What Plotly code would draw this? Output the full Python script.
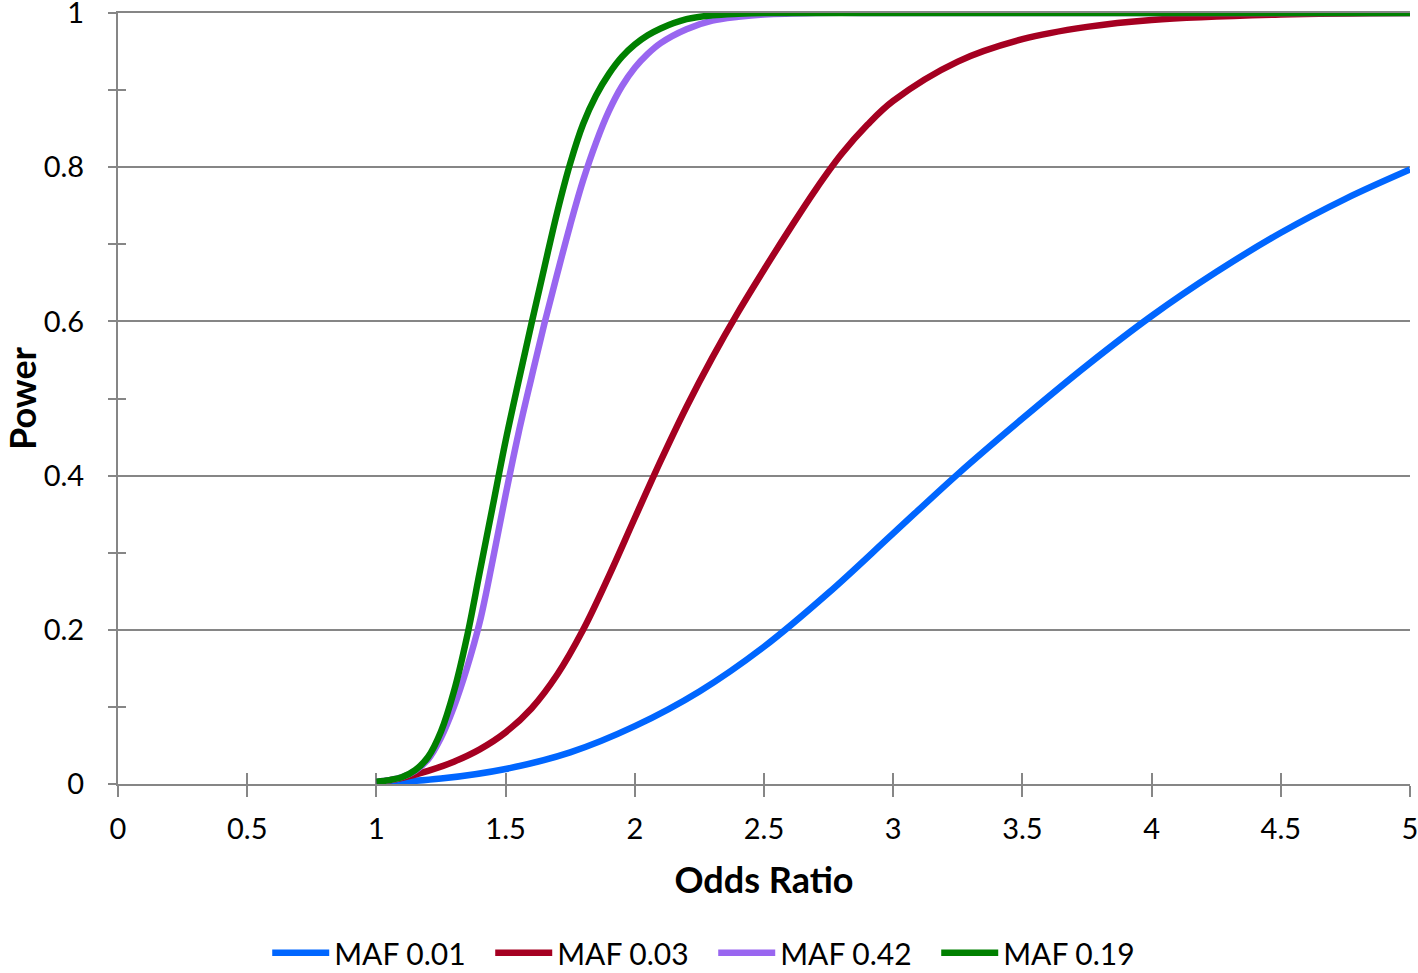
import plotly.graph_objects as go

# ---- data ----
series_names = ["MAF 0.01", "MAF 0.03", "MAF 0.42", "MAF 0.19"]
series_colors = ["#0066FF", "#A50021", "#9966F0", "#008000"]

x_maf001 = [1.0, 1.25, 1.5, 1.75, 2.0, 2.25, 2.5, 2.75, 3.0, 3.25, 3.5, 3.75, 4.0, 4.25, 4.5, 4.75, 5.0]
y_maf001 = [0.001, 0.007, 0.0195, 0.041, 0.075, 0.12, 0.178, 0.248, 0.325, 0.402, 0.474, 0.543, 0.607, 0.664, 0.715, 0.759, 0.797]

x_maf003 = [1.0, 1.1, 1.2, 1.3, 1.4, 1.5, 1.6, 1.7, 1.8, 1.9, 2.0, 2.1, 2.2, 2.3, 2.4, 2.5, 2.6, 2.7, 2.8, 2.9, 3.0, 3.25, 3.5, 3.75, 4.0, 4.5, 5.0]
y_maf003 = [0.002, 0.008, 0.017, 0.029, 0.045, 0.067, 0.098, 0.142, 0.2, 0.27, 0.345, 0.419, 0.489, 0.553, 0.612, 0.667, 0.72, 0.771, 0.817, 0.855, 0.886, 0.937, 0.966, 0.982, 0.991, 0.998, 1.0]

x_maf042 = [1.0, 1.05, 1.1, 1.15, 1.2, 1.25, 1.3, 1.35, 1.4, 1.45, 1.5, 1.55, 1.6, 1.65, 1.7, 1.75, 1.8, 1.85, 1.9, 1.95, 2.0, 2.05, 2.1, 2.2, 2.3, 2.4, 2.5, 2.7, 3.0, 4.0, 5.0]
y_maf042 = [0.003, 0.005, 0.009, 0.017, 0.032, 0.06, 0.1, 0.15, 0.21, 0.29, 0.375, 0.455, 0.527, 0.597, 0.662, 0.725, 0.783, 0.832, 0.873, 0.905, 0.929, 0.947, 0.961, 0.979, 0.99, 0.995, 0.998, 1.0, 1.0, 1.0, 1.0]

x_maf019 = [1.0, 1.05, 1.1, 1.15, 1.2, 1.25, 1.3, 1.35, 1.4, 1.45, 1.5, 1.55, 1.6, 1.65, 1.7, 1.75, 1.8, 1.85, 1.9, 1.95, 2.0, 2.05, 2.1, 2.2, 2.3, 2.4, 2.5, 3.0, 4.0, 5.0]
y_maf019 = [0.003, 0.005, 0.009, 0.018, 0.035, 0.068, 0.12, 0.19, 0.275, 0.36, 0.445, 0.522, 0.597, 0.67, 0.742, 0.805, 0.856, 0.893, 0.921, 0.943, 0.959, 0.971, 0.98, 0.992, 0.997, 0.999, 1.0, 1.0, 1.0, 1.0]

x_tick_vals = [0, 0.5, 1, 1.5, 2, 2.5, 3, 3.5, 4, 4.5, 5]
x_tick_text = ["0", "0.5", "1", "1.5", "2", "2.5", "3", "3.5", "4", "4.5", "5"]
y_tick_vals = [0, 0.2, 0.4, 0.6, 0.8, 1.0]
y_tick_text = ["0", "0.2", "0.4", "0.6", "0.8", "1"]
y_minor_vals = [0.1, 0.3, 0.5, 0.7, 0.9]

xs = [x_maf001, x_maf003, x_maf042, x_maf019]
ys = [y_maf001, y_maf003, y_maf042, y_maf019]

FONT = "Lato"
GRID = "#868686"

fig = go.Figure()
for name, color, xv, yv in zip(series_names, series_colors, xs, ys):
    fig.add_trace(go.Scatter(
        x=xv, y=yv, name=name, mode="lines",
        line=dict(color=color, width=6.5, shape="spline", smoothing=1.0),
    ))

# invisible trace carrying the secondary axes (for crossing ticks)
fig.add_trace(go.Scatter(x=[0], y=[0], xaxis="x2", yaxis="y2", mode="markers",
                         marker=dict(opacity=0), showlegend=False, hoverinfo="skip"))

fig.update_layout(
    width=1418, height=973,
    margin=dict(l=118, r=8, t=13, b=189, autoexpand=False),
    paper_bgcolor="white", plot_bgcolor="white",
    font=dict(family=FONT, color="black", size=29),
    showlegend=True,
    legend=dict(orientation="h", x=0.4607, xanchor="center", y=-0.219, yanchor="middle",
                font=dict(family=FONT, size=30), entrywidth=151, entrywidthmode="pixels",
                itemwidth=57, traceorder="normal"),
    xaxis=dict(range=[0, 5], tickvals=x_tick_vals, ticktext=x_tick_text,
               ticks="outside", ticklen=11, tickwidth=2, tickcolor=GRID,
               showline=True, linecolor=GRID, linewidth=2, mirror=True,
               showgrid=False, zeroline=False, ticklabelstandoff=7,
               ticklabeloverflow="allow", automargin=False, layer="below traces",
               title=dict(text="<b>Odds Ratio</b>", font=dict(family=FONT, size=36), standoff=24)),
    yaxis=dict(range=[0, 1], tickvals=y_tick_vals, ticktext=y_tick_text,
               ticks="outside", ticklen=8, tickwidth=2, tickcolor=GRID,
               showline=True, linecolor=GRID, linewidth=2,
               showgrid=True, gridcolor=GRID, gridwidth=2, zeroline=False,
               ticklabelstandoff=18, ticklabeloverflow="allow", automargin=False,
               layer="below traces",
               title=dict(text="<b>Power</b>", font=dict(family=FONT, size=36), standoff=1),
               minor=dict(tickvals=y_minor_vals, ticks="outside", ticklen=8, tickwidth=2,
                          tickcolor=GRID, showgrid=False)),
    xaxis2=dict(range=[0, 5], overlaying="x", anchor="y2", side="bottom",
                tickvals=x_tick_vals, ticks="inside", ticklen=11, tickwidth=2, tickcolor=GRID,
                showticklabels=False, showgrid=False, zeroline=False, showline=False,
                automargin=False, layer="below traces"),
    yaxis2=dict(range=[0, 1], overlaying="y", anchor="x2", side="left",
                tickvals=y_minor_vals, ticks="inside", ticklen=8, tickwidth=2, tickcolor=GRID,
                showticklabels=False, showgrid=False, zeroline=False, showline=False,
                automargin=False, layer="below traces"),
)

fig.write_html(
    "out.html",
    config={"displayModeBar": False},
    post_script="document.body.style.margin='0';document.body.style.overflow='hidden';",
)
